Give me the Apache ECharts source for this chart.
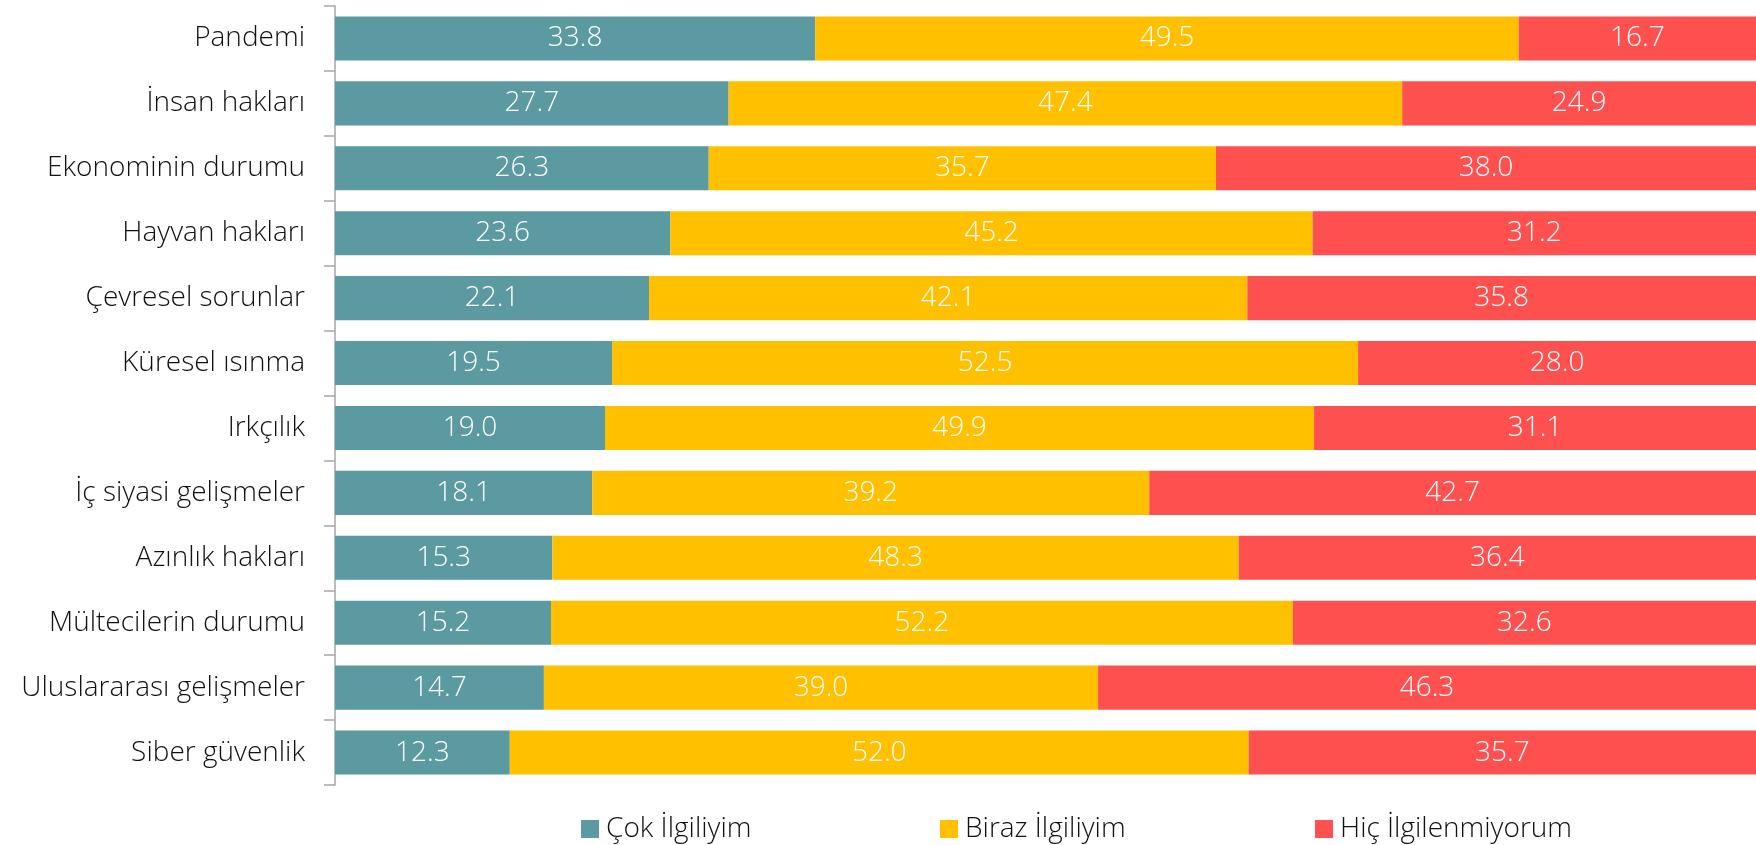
<!DOCTYPE html>
<html><head><meta charset="utf-8">
<script src="https://cdn.jsdelivr.net/npm/echarts@6/dist/echarts.min.js"></script>
<style>html,body{margin:0;padding:0;background:#fff}#c{width:1756px;height:845px}</style>
</head><body><div id="c"></div>
<script>
const categories = ["Pandemi","İnsan hakları","Ekonominin durumu","Hayvan hakları","Çevresel sorunlar","Küresel ısınma","Irkçılık","İç siyasi gelişmeler","Azınlık hakları","Mültecilerin durumu","Uluslararası gelişmeler","Siber güvenlik"];
const cokIlgiliyim = [33.8,27.7,26.3,23.6,22.1,19.5,19.0,18.1,15.3,15.2,14.7,12.3];
const birazIlgiliyim = [49.5,47.4,35.7,45.2,42.1,52.5,49.9,39.2,48.3,52.2,39.0,52.0];
const hicIlgilenmiyorum = [16.7,24.9,38.0,31.2,35.8,28.0,31.1,42.7,36.4,32.6,46.3,35.7];
const seriesNames = ["Çok İlgiliyim","Biraz İlgiliyim","Hiç İlgilenmiyorum"];
const colors = ["#5A9AA0","#FFC000","#FF5050"];
const FONT = "Open Sans";
const chart = echarts.init(document.getElementById('c'));
const mk = (name, data, color) => ({
  name, type: 'bar', stack: 'total', data, barWidth: '68%',
  itemStyle: {color},
  label: {show: true, position: 'inside', color: '#fff', fontFamily: FONT, fontWeight: 300, fontSize: 28,
    formatter: p => p.value.toFixed(1)}
});
const legendLefts = [576, 935, 1310];
const legends = seriesNames.map((n, i) => ({
  data: [n], left: legendLefts[i], top: 810, itemWidth: 18, itemHeight: 18, icon: 'rect', itemGap: 0,
  textStyle: {fontFamily: FONT, fontWeight: 300, fontSize: 28, color: '#111', padding: [0, 0, 0, 2]}
}));
chart.setOption({
  animation: false,
  color: colors,
  grid: {left: 335, right: 0, top: 6, bottom: 60},
  xAxis: {type: 'value', min: 0, max: 100, show: false},
  yAxis: {type: 'category', data: categories, inverse: true,
    axisLine: {lineStyle: {color: '#a6a6a6', width: 1.5}},
    axisTick: {show: true, length: 11, lineStyle: {color: '#a6a6a6', width: 1.5}},
    axisLabel: {fontFamily: FONT, fontWeight: 300, fontSize: 28, color: '#111', margin: 30}},
  legend: legends,
  series: [mk(seriesNames[0], cokIlgiliyim, colors[0]), mk(seriesNames[1], birazIlgiliyim, colors[1]), mk(seriesNames[2], hicIlgilenmiyorum, colors[2])]
});
</script></body></html>
